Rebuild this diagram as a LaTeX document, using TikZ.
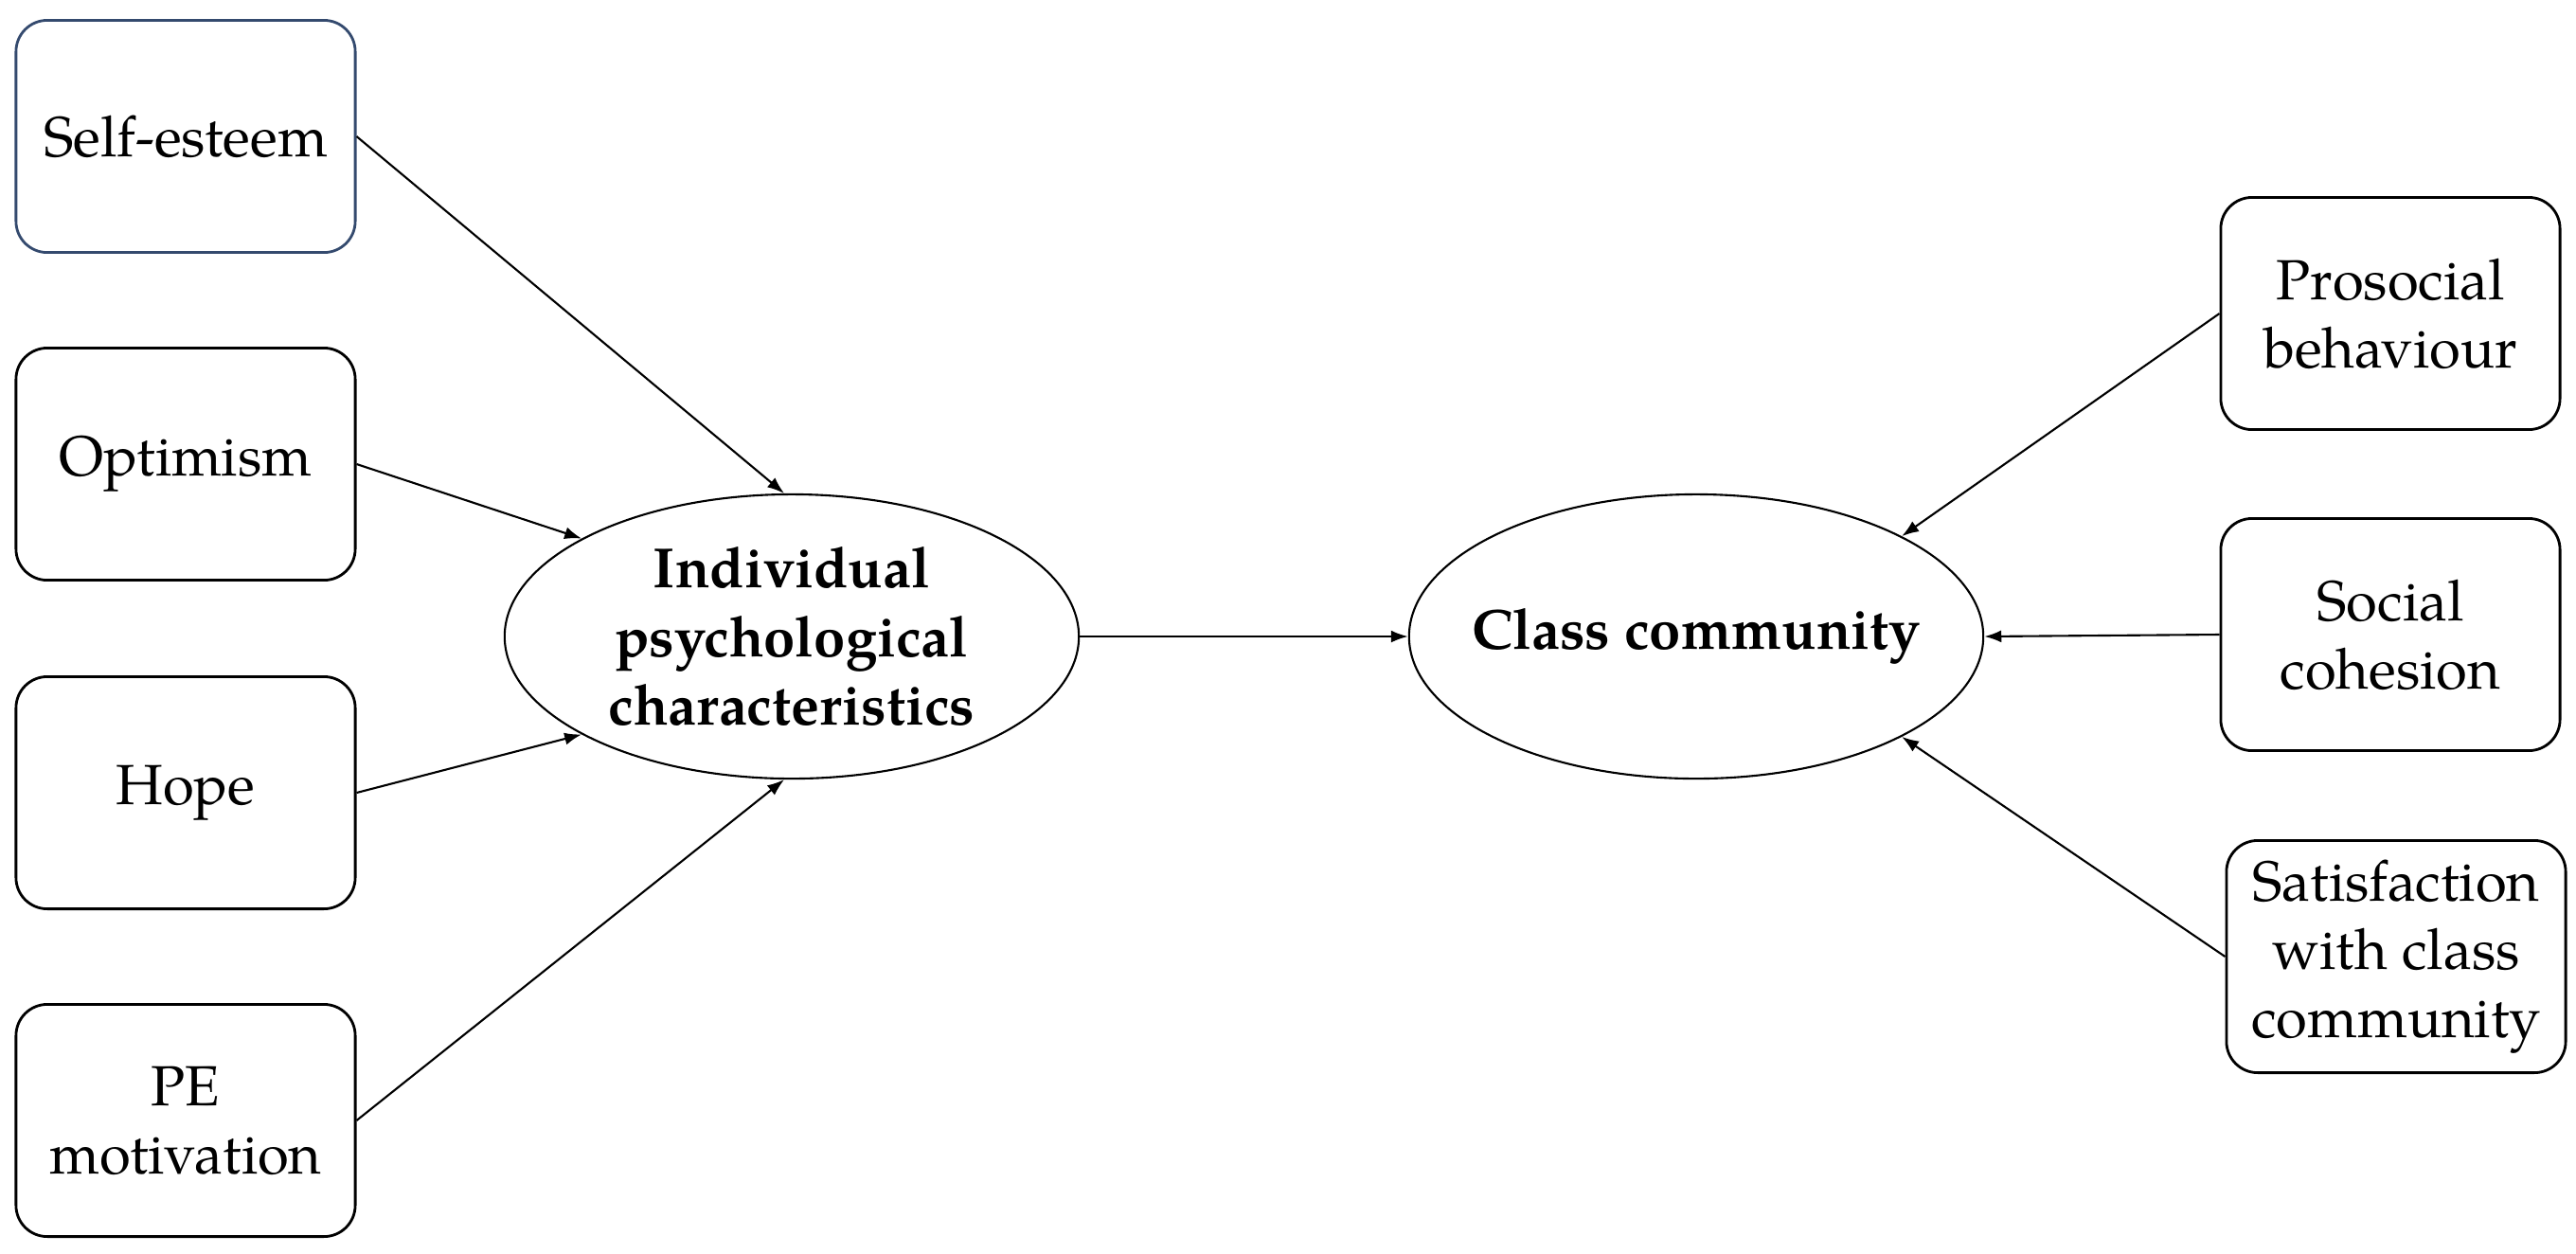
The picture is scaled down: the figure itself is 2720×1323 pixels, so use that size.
\documentclass[tikz,border=0pt]{standalone}
\usepackage{fontspec}
\setmainfont{texgyrepagella}[Extension=.otf, UprightFont=*-regular, BoldFont=*-bold, ItalicFont=*-italic, BoldItalicFont=*-bolditalic]
\usetikzlibrary{arrows.meta,shapes.geometric}
\definecolor{sebord}{RGB}{52,74,110}
\tikzset{
  varbox/.style={draw=black, line width=0.8pt, rounded corners=0.33cm, minimum width=3.58cm, minimum height=2.45cm, inner sep=0pt, align=center, font=\fontsize{17}{20.5}\selectfont},
  latent/.style={draw=black, line width=0.6pt, ellipse, minimum width=6.06cm, minimum height=3.0cm, inner sep=-0.9cm, align=center, font=\fontsize{17}{20.5}\selectfont\bfseries},
  path/.style={draw=black, line width=0.6pt, -{Latex[length=0.18cm, width=0.13cm]}}
}
\begin{document}
\begin{tikzpicture}[x=0.01cm, y=-0.01cm]
\useasboundingbox (0,0) rectangle (2720,1323);
\node[varbox, draw=sebord] (se) at (196,144) {Self-esteem};
\node[varbox] (op) at (196,490) {Optimism};
\node[varbox] (ho) at (196,837) {Hope};
\node[varbox] (pe) at (196,1183) {PE\\motivation};
\node[latent] (ind) at (836,672) {Individual\\psychological\\characteristics};
\node[latent] (cc) at (1791,672) {Class community};
\node[varbox] (pro) at (2524,331) {Prosocial\\behaviour};
\node[varbox] (soc) at (2524,670) {Social\\cohesion};
\node[varbox] (sat) at (2530,1010) {Satisfaction\\with class\\community};
\draw[path] (se.east) -- (ind.93);
\draw[path] (op.east) -- (ind.155);
\draw[path] (ho.east) -- (ind.205);
\draw[path] (pe.east) -- (ind.267);
\draw[path] (ind.east) -- (cc.west);
\draw[path] (pro.west) -- (cc.26);
\draw[path] (soc.west) -- (cc.east);
\draw[path] (sat.west) -- (cc.334);
\end{tikzpicture}
\end{document}
